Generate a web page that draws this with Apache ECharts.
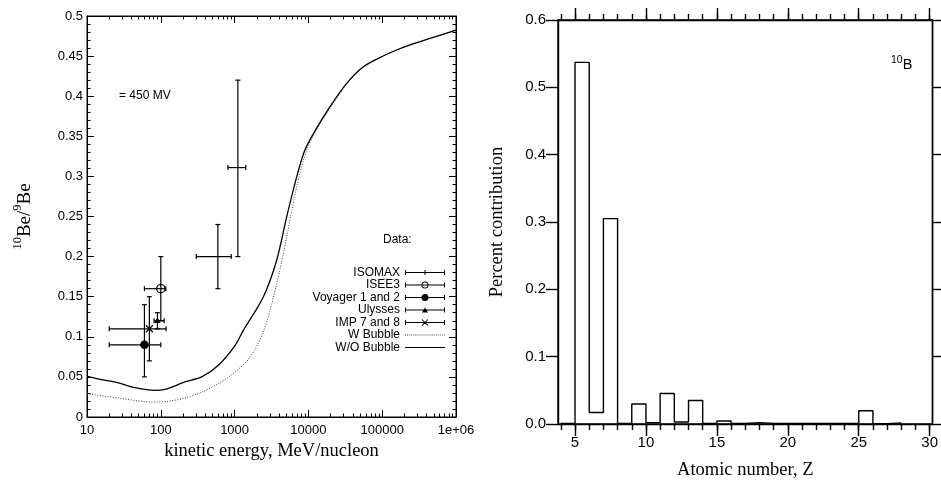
<!DOCTYPE html>
<html><head><meta charset="utf-8">
<script src="https://cdn.jsdelivr.net/npm/echarts@6/dist/echarts.min.js"></script>
<style>html,body{margin:0;padding:0;background:#fff}#c{width:941px;height:485px}</style>
</head><body><div id="c"></div>
<script>
// ---------- Left panel: 10Be/9Be vs kinetic energy ----------
const energyWO = [10, 15.8, 26.6, 44.7, 83, 114, 213, 358, 603, 1012, 1313, 2449, 3716, 5078, 6940, 8970, 12500, 19630, 33000, 55500, 90000, 157000, 250000, 445000, 1000000];
const ratioWO  = [0.0508, 0.0466, 0.0425, 0.0367, 0.0333, 0.0345, 0.0437, 0.050, 0.0645, 0.089, 0.108, 0.1497, 0.1955, 0.2496, 0.2995, 0.333, 0.358, 0.387, 0.416, 0.4367, 0.4475, 0.4576, 0.4647, 0.472, 0.4825];
const energyW  = [10, 26.6, 75, 126, 213, 358, 603, 1012, 1600, 2500, 3716, 5078, 6940, 9490, 12500, 19630, 33000, 55500, 90000, 157000, 250000, 445000, 1000000];
const ratioW   = [0.0292, 0.0237, 0.0187, 0.0196, 0.0237, 0.031, 0.0416, 0.056, 0.074, 0.108, 0.166, 0.2246, 0.287, 0.333, 0.356, 0.385, 0.415, 0.4365, 0.4475, 0.4576, 0.4647, 0.472, 0.4825];

// measurements: [energy, ratio, energyLow, energyHigh, ratioLow, ratioHigh]
const isomax  = [[593, 0.20, 302, 900, 0.16, 0.24], [1107, 0.311, 811, 1419, 0.20, 0.42]];
const isee3   = [[100, 0.16, 60, 117, 0.12, 0.20]];
const voyager = [[60, 0.09, 20, 100, 0.05, 0.14]];
const ulysses = [[90, 0.12, 81, 111, 0.11, 0.13]];
const imp     = [[70, 0.11, 20, 118, 0.07, 0.15]];

const leftXTicks = [10, 100, 1000, 10000, 100000, 1000000];
const leftXTickLabels = ['10', '100', '1000', '10000', '100000', '1e+06'];
const leftYTickLabels = ['0', '0.05', '0.1', '0.15', '0.2', '0.25', '0.3', '0.35', '0.4', '0.45', '0.5'];

// ---------- Right panel: percent contribution vs Z ----------
const atomicZ = [4, 5, 6, 7, 8, 9, 10, 11, 12, 13, 14, 15, 16, 17, 18, 19, 20, 21, 22, 23, 24, 25, 26, 27, 28];
const contribution = [0.001, 0.537, 0.017, 0.305, 0.001, 0.0296, 0.002, 0.0453, 0.003, 0.035, 0.001, 0.0044, 0.0008, 0.002, 0.001, 0.001, 0.0008, 0.001, 0.0008, 0.0008, 0.0008, 0.0197, 0.0006, 0.0016, 0.0016];
const rightXTicks = [5, 10, 15, 20, 25, 30];
const rightYTickLabels = ['0.0', '0.1', '0.2', '0.3', '0.4', '0.5', '0.6'];

const leftXMinor = [];
[10, 100, 1000, 10000, 100000].forEach(d => { for (let k = 2; k <= 9; k++) leftXMinor.push(d * k); });
const rightXMinor = [];
for (let z = 4; z <= 30; z++) rightXMinor.push(z);

const sans = "'Liberation Sans', Arial, Helvetica, sans-serif";
const serif = "'Liberation Serif', 'Times New Roman', serif";

function errRenderer(sym) {
  return function (params, api) {
    const x = api.value(0), y = api.value(1);
    const p = api.coord([x, y]);
    const l = api.coord([api.value(2), y]);
    const r = api.coord([api.value(3), y]);
    const b = api.coord([x, api.value(4)]);
    const t = api.coord([x, api.value(5)]);
    const cap = 2.5;
    const st = { stroke: '#000', lineWidth: 1.2, fill: null };
    const ch = [
      { type: 'line', shape: { x1: l[0], y1: p[1], x2: r[0], y2: p[1] }, style: st },
      { type: 'line', shape: { x1: l[0], y1: p[1] - cap, x2: l[0], y2: p[1] + cap }, style: st },
      { type: 'line', shape: { x1: r[0], y1: p[1] - cap, x2: r[0], y2: p[1] + cap }, style: st },
      { type: 'line', shape: { x1: p[0], y1: t[1], x2: p[0], y2: b[1] }, style: st },
      { type: 'line', shape: { x1: p[0] - cap, y1: t[1], x2: p[0] + cap, y2: t[1] }, style: st },
      { type: 'line', shape: { x1: p[0] - cap, y1: b[1], x2: p[0] + cap, y2: b[1] }, style: st }
    ];
    if (sym === 'circle') ch.push({ type: 'circle', shape: { cx: p[0], cy: p[1], r: 4.3 }, style: { fill: '#000' } });
    if (sym === 'emptyCircle') ch.push({ type: 'circle', shape: { cx: p[0], cy: p[1], r: 4.2 }, style: { fill: 'none', stroke: '#000', lineWidth: 1.2 } });
    if (sym === 'triangle') ch.push({ type: 'polygon', shape: { points: [[p[0], p[1] - 3.5], [p[0] + 3.2, p[1] + 2.3], [p[0] - 3.2, p[1] + 2.3]] }, style: { fill: '#000' } });
    if (sym === 'cross') {
      ch.push({ type: 'line', shape: { x1: p[0] - 3.5, y1: p[1] - 3.5, x2: p[0] + 3.5, y2: p[1] + 3.5 }, style: st });
      ch.push({ type: 'line', shape: { x1: p[0] - 3.5, y1: p[1] + 3.5, x2: p[0] + 3.5, y2: p[1] - 3.5 }, style: st });
    }
    return { type: 'group', children: ch };
  };
}

// legend icons (40 x 7 boxes)
const barPath = 'M0,3H40V4H0Z M0,1H1V6H0Z M39,1H40V6H39Z ';
const iconIsomax = 'path://' + barPath + 'M19.5,1H20.5V6H19.5Z';
const iconIsee3 = 'path://' + barPath + 'M23.5,3.5A3.5,3.5 0 1 1 16.5,3.5A3.5,3.5 0 1 1 23.5,3.5Z M22.6,3.5A2.6,2.6 0 1 0 17.4,3.5A2.6,2.6 0 1 0 22.6,3.5Z';
const iconVoy = 'path://' + barPath + 'M23.5,3.5A3.5,3.5 0 1 1 16.5,3.5A3.5,3.5 0 1 1 23.5,3.5Z';
const iconUly = 'path://' + barPath + 'M20,0.8L23,5.8L17,5.8Z';
const iconImp = 'path://' + barPath + 'M16.65,0.85L17.35,0.15L23.35,6.15L22.65,6.85Z M22.65,0.15L23.35,0.85L17.35,6.85L16.65,6.15Z';
let dots = '';
for (let i = 0; i < 20; i++) dots += 'M' + (2 * i) + ',3H' + (2 * i + 1) + 'V4H' + (2 * i) + 'Z ';
const iconDot = 'path://' + dots;
const iconLine = 'path://M0,3H40V4H0Z';

const chart = echarts.init(document.getElementById('c'), null, { renderer: 'canvas' });

const blk = { color: '#000' };
function xAxisBase(extra) {
  return Object.assign({ splitLine: { show: false }, minorSplitLine: { show: false } }, extra);
}

const option = {
  animation: false,
  backgroundColor: '#fff',
  grid: [
    { left: 87, top: 16, width: 369, height: 401, show: true, borderColor: '#000', borderWidth: 1, backgroundColor: 'transparent' },
    { left: 558, top: 20, width: 375, height: 406, show: true, borderColor: '#000', borderWidth: 1.4, backgroundColor: 'transparent' }
  ],
  xAxis: [
    xAxisBase({ gridIndex: 0, type: 'log', logBase: 10, min: 10, max: 1000000, position: 'bottom',
      axisLine: { show: true, lineStyle: blk },
      axisTick: { inside: true, length: 7, customValues: leftXTicks, lineStyle: blk },
      axisLabel: { customValues: leftXTicks, color: '#000', fontSize: 13, fontFamily: sans, margin: 6.5,
        formatter: v => { let bi = 0; leftXTicks.forEach((t, i) => { if (Math.abs(Math.log10(t) - Math.log10(v)) < Math.abs(Math.log10(leftXTicks[bi]) - Math.log10(v))) bi = i; }); return leftXTickLabels[bi]; } },
      name: 'kinetic energy, MeV/nucleon', nameLocation: 'middle', nameGap: 21,
      nameTextStyle: { fontFamily: serif, fontSize: 18.5, color: '#000' } }),
    xAxisBase({ gridIndex: 0, type: 'log', logBase: 10, min: 10, max: 1000000, position: 'bottom',
      axisLine: { show: false }, axisTick: { inside: true, length: 3.5, customValues: leftXMinor, lineStyle: blk },
      axisLabel: { show: false } }),
    xAxisBase({ gridIndex: 0, type: 'log', logBase: 10, min: 10, max: 1000000, position: 'top',
      axisLine: { show: true, lineStyle: blk }, axisTick: { inside: true, length: 7, customValues: leftXTicks, lineStyle: blk },
      axisLabel: { show: false } }),
    xAxisBase({ gridIndex: 0, type: 'log', logBase: 10, min: 10, max: 1000000, position: 'top',
      axisLine: { show: false }, axisTick: { inside: true, length: 3.5, customValues: leftXMinor, lineStyle: blk },
      axisLabel: { show: false } }),
    // right panel
    xAxisBase({ gridIndex: 1, type: 'value', min: 3.8, max: 30.2, position: 'bottom',
      axisLine: { show: true, lineStyle: { color: '#000', width: 1.4 } },
      axisTick: { inside: false, length: 12, customValues: rightXTicks, lineStyle: { color: '#000', width: 1.4 } },
      axisLabel: { customValues: rightXTicks, color: '#000', fontSize: 15, fontFamily: sans, margin: 11.5 },
      name: 'Atomic number, Z', nameLocation: 'middle', nameGap: 37,
      nameTextStyle: { fontFamily: serif, fontSize: 18.5, color: '#000' } }),
    xAxisBase({ gridIndex: 1, type: 'value', min: 3.8, max: 30.2, position: 'bottom',
      axisLine: { show: false }, axisTick: { inside: false, length: 6, customValues: rightXMinor, lineStyle: { color: '#000', width: 1.4 } },
      axisLabel: { show: false } }),
    xAxisBase({ gridIndex: 1, type: 'value', min: 3.8, max: 30.2, position: 'top',
      axisLine: { show: true, lineStyle: { color: '#000', width: 1.4 } },
      axisTick: { inside: false, length: 12, customValues: rightXTicks, lineStyle: { color: '#000', width: 1.4 } },
      axisLabel: { show: false } }),
    xAxisBase({ gridIndex: 1, type: 'value', min: 3.8, max: 30.2, position: 'top',
      axisLine: { show: false }, axisTick: { inside: false, length: 6, customValues: rightXMinor, lineStyle: { color: '#000', width: 1.4 } },
      axisLabel: { show: false } })
  ],
  yAxis: [
    { gridIndex: 0, type: 'value', min: 0, max: 0.5, interval: 0.05, position: 'left',
      axisLine: { show: true, lineStyle: blk },
      axisTick: { inside: true, length: 7, lineStyle: blk },
      minorTick: { show: true, splitNumber: 5, length: 3.5, lineStyle: blk },
      splitLine: { show: false }, minorSplitLine: { show: false },
      axisLabel: { color: '#000', fontSize: 13, fontFamily: sans, margin: 4, formatter: (v, i) => leftYTickLabels[i] },
      name: '{s|10}{b|Be/}{s|9}{b|Be}', nameLocation: 'middle', nameGap: 52, nameRotate: 90,
      nameTextStyle: { color: '#000', rich: {
        s: { fontFamily: serif, fontSize: 12.5, color: '#000', verticalAlign: 'bottom', padding: [0, 0, 11, 0] },
        b: { fontFamily: serif, fontSize: 19, color: '#000', verticalAlign: 'bottom' } } } },
    { gridIndex: 0, type: 'value', min: 0, max: 0.5, interval: 0.05, position: 'right',
      axisLine: { show: true, lineStyle: blk },
      axisTick: { inside: true, length: 7, lineStyle: blk },
      minorTick: { show: true, splitNumber: 5, length: 3.5, lineStyle: blk },
      splitLine: { show: false }, minorSplitLine: { show: false }, axisLabel: { show: false } },
    { gridIndex: 1, type: 'value', min: 0, max: 0.6, interval: 0.1, position: 'left',
      axisLine: { show: true, lineStyle: { color: '#000', width: 1.4 } },
      axisTick: { inside: false, length: 12, lineStyle: { color: '#000', width: 1.4 } },
      splitLine: { show: false },
      axisLabel: { color: '#000', fontSize: 15, fontFamily: sans, margin: 12, formatter: (v, i) => rightYTickLabels[i] },
      name: 'Percent contribution', nameLocation: 'middle', nameGap: 51, nameRotate: 90,
      nameTextStyle: { fontFamily: serif, fontSize: 18.5, color: '#000' } },
    { gridIndex: 1, type: 'value', min: 0, max: 0.6, interval: 0.1, position: 'right',
      axisLine: { show: true, lineStyle: { color: '#000', width: 1.4 } },
      axisTick: { inside: false, length: 12, lineStyle: { color: '#000', width: 1.4 } },
      splitLine: { show: false }, axisLabel: { show: false } }
  ],
  legend: {
    orient: 'vertical', align: 'right', right: 496, top: 266.5, padding: 0,
    itemWidth: 40, itemHeight: 7, itemGap: 0.5, selectedMode: false,
    textStyle: { fontFamily: sans, fontSize: 12, color: '#000' },
    data: [
      { name: 'ISOMAX', icon: iconIsomax, itemStyle: { color: '#000', borderWidth: 0 } },
      { name: 'ISEE3', icon: iconIsee3, itemStyle: { color: '#000', borderWidth: 0 } },
      { name: 'Voyager 1 and 2', icon: iconVoy, itemStyle: { color: '#000', borderWidth: 0 } },
      { name: 'Ulysses', icon: iconUly, itemStyle: { color: '#000', borderWidth: 0 } },
      { name: 'IMP 7 and 8', icon: iconImp, itemStyle: { color: '#000', borderWidth: 0 } },
      { name: 'W Bubble', icon: iconDot, itemStyle: { color: '#555', borderWidth: 0 } },
      { name: 'W/O Bubble', icon: iconLine, itemStyle: { color: '#000', borderWidth: 0 } }
    ]
  },
  graphic: [
    { type: 'text', left: 119, top: 90, style: { text: '= 450 MV', font: '12px ' + sans, fill: '#000' } },
    { type: 'text', left: 383, top: 234, style: { text: 'Data:', font: '12px ' + sans, fill: '#000' } },
    { type: 'text', left: 891, top: 55, style: { text: '{s|10}{b|B}', rich: {
      s: { fontFamily: sans, fontSize: 10.5, fill: '#000', verticalAlign: 'bottom', padding: [0, 0, 6, 0] },
      b: { fontFamily: sans, fontSize: 14.5, fill: '#000', verticalAlign: 'bottom' } } } }
  ],
  series: [
    { name: 'W Bubble', type: 'line', xAxisIndex: 0, yAxisIndex: 0, showSymbol: false, symbol: 'none', smooth: 0.3,
      color: '#555', lineStyle: { color: '#444', width: 1, type: [1, 1.6] },
      data: energyW.map((e, i) => [e, ratioW[i]]) },
    { name: 'W/O Bubble', type: 'line', xAxisIndex: 0, yAxisIndex: 0, showSymbol: false, symbol: 'none', smooth: 0.3,
      color: '#000', lineStyle: { color: '#000', width: 1.3 },
      data: energyWO.map((e, i) => [e, ratioWO[i]]) },
    { name: 'ISOMAX', type: 'custom', xAxisIndex: 0, yAxisIndex: 0, color: '#000', renderItem: errRenderer('none'), encode: { x: 0, y: 1 }, data: isomax },
    { name: 'ISEE3', type: 'custom', xAxisIndex: 0, yAxisIndex: 0, color: '#000', renderItem: errRenderer('emptyCircle'), encode: { x: 0, y: 1 }, data: isee3 },
    { name: 'Voyager 1 and 2', type: 'custom', xAxisIndex: 0, yAxisIndex: 0, color: '#000', renderItem: errRenderer('circle'), encode: { x: 0, y: 1 }, data: voyager },
    { name: 'Ulysses', type: 'custom', xAxisIndex: 0, yAxisIndex: 0, color: '#000', renderItem: errRenderer('triangle'), encode: { x: 0, y: 1 }, data: ulysses },
    { name: 'IMP 7 and 8', type: 'custom', xAxisIndex: 0, yAxisIndex: 0, color: '#000', renderItem: errRenderer('cross'), encode: { x: 0, y: 1 }, data: imp },
    { name: 'Contribution', type: 'line', xAxisIndex: 4, yAxisIndex: 2, step: 'end', showSymbol: false, symbol: 'none',
      color: '#000', lineStyle: { color: '#000', width: 1.4 },
      data: atomicZ.map((z, i) => [z, contribution[i]]) }
  ]
};
chart.setOption(option);
</script>
</body></html>
